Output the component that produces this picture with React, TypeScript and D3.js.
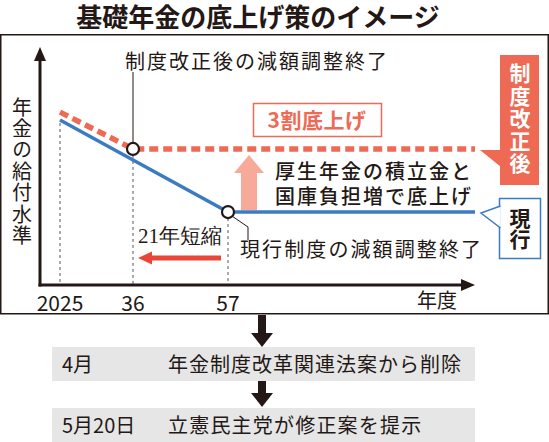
import React from 'react';
import * as d3 from 'd3';

const title = '基礎年金の底上げ策のイメージ';
const xTickYears = [2025, 2036, 2057];
const xTickLabels = ['2025', '36', '57'];
const xAxisLabel = '年度';
const yAxisLabel = '年金の給付水準';
const currentYears = [2025, 2057, 2075];
const currentValues = [70.8, 31.3, 31.3];
const reformYears = [2025, 2036, 2075];
const reformValues = [74.2, 58.4, 58.4];
const reformEndLabel = '制度改正後の減額調整終了';
const currentEndLabel = '現行制度の減額調整終了';
const raiseLabel = '3割底上げ';
const methodLines = ['厚生年金の積立金と', '国庫負担増で底上げ'];
const shortenLabel = '21年短縮';
const reformTag = '制度改正後';
const currentTag = '現行';
const timelineDates = ['4月', '5月20日'];
const timelineEvents = ['年金制度改革関連法案から削除', '立憲民主党が修正案を提示'];

const FONT = "'Noto Sans CJK JP', 'Noto Sans', sans-serif";
const INK = '#231815';
const RED = '#ee6a55';
const BLUE = '#3b7bc3';
const SALMON = '#f8aa9a';

export default function App() {
  const W = 549;
  const H = 442;
  const x = d3.scaleLinear().domain([2025, 2036, 2057, 2075]).range([60, 133, 228, 475]);
  const y = d3.scaleLinear().domain([0, 100]).range([285, 52]);
  const line = d3.line<[number, number]>().x((d) => x(d[0])).y((d) => y(d[1]));
  const cur = currentYears.map((yr, i) => [yr, currentValues[i]] as [number, number]);
  const ref = reformYears.map((yr, i) => [yr, reformValues[i]] as [number, number]);
  const axisY = y(0);
  const axisX = 40;
  const c1 = { x: x(reformYears[1]), y: y(reformValues[1]) };
  const c2 = { x: x(currentYears[1]), y: y(currentValues[1]) };
  const r = 6;

  const vText = (chars: string, cx: number, top: number, step: number, fontSize: number, props: any) => (
    <text
      x={cx}
      y={top}
      fontSize={fontSize}
      letterSpacing={step - fontSize}
      style={{ writingMode: 'vertical-rl' as any }}
      {...props}
    >
      {chars}
    </text>
  );

  const downArrow = (cx: number, top: number, bottom: number) => {
    const hh = 14;
    return (
      <g>
        <rect x={cx - 4} y={top} width={8} height={bottom - top - hh + 1} fill={INK} />
        <path d={`M${cx - 11},${bottom - hh} L${cx + 11},${bottom - hh} L${cx},${bottom} Z`} fill={INK} />
      </g>
    );
  };

  return (
    <svg width={W} height={H} style={{ position: 'absolute', left: 0, top: 0, background: '#fff' }} fontFamily={FONT}>
      <rect x={0} y={0} width={W} height={H} fill="#fff" />
      <text x={258} y={15} textAnchor="middle" dominantBaseline="central" fontSize={26} fontWeight={700} fill={INK}>{title}</text>
      <rect x={0.75} y={34.75} width={547.5} height={279} fill="none" stroke={INK} strokeWidth={1.5} />

      {/* dashed guide lines */}
      <line x1={x(2025)} x2={x(2025)} y1={y(currentValues[0]) + 3} y2={axisY} stroke="#555" strokeWidth={1} strokeDasharray="3 3" />
      <line x1={c1.x} x2={c1.x} y1={c1.y + r} y2={axisY} stroke="#555" strokeWidth={1} strokeDasharray="3 3" />
      <line x1={c2.x} x2={c2.x} y1={c2.y + r} y2={axisY} stroke="#555" strokeWidth={1} strokeDasharray="3 3" />

      {/* axes */}
      <line x1={axisX} x2={axisX} y1={axisY + 1.5} y2={60} stroke={INK} strokeWidth={3} />
      <path d={`M${axisX - 6},${61} L${axisX + 6},${61} L${axisX},${47} Z`} fill={INK} />
      <line x1={axisX - 1.5} x2={462} y1={axisY} y2={axisY} stroke={INK} strokeWidth={3} />
      <path d={`M${461},${axisY - 6} L${461},${axisY + 6} L${475},${axisY} Z`} fill={INK} />
      {xTickYears.map((yr, i) => (
        <text key={yr} x={x(yr)} y={311} textAnchor="middle" fontSize={21} fill={INK}>{xTickLabels[i]}</text>
      ))}
      <text x={437} y={308} textAnchor="middle" fontSize={20} fill={INK}>{xAxisLabel}</text>
      {vText(yAxisLabel, 22, 97, 21.4, 20, { fill: INK })}

      {/* up arrow */}
      <path d={`M241,210 L241,173 L234,173 L249,155 L264,173 L257,173 L257,210 Z`} fill={SALMON} />

      {/* series */}
      <path d={line(ref) || ''} fill="none" stroke={RED} strokeWidth={5.5} strokeDasharray="9 5" />
      <path d={line(cur) || ''} fill="none" stroke={BLUE} strokeWidth={3.5} />

      {/* leaders */}
      <line x1={c1.x} x2={c1.x} y1={72} y2={c1.y - r} stroke={INK} strokeWidth={1} />
      <polyline points={`${c2.x + 4},${c2.y + 4} 248,227 248,240`} fill="none" stroke={INK} strokeWidth={1} />

      <circle cx={c1.x} cy={c1.y} r={r} fill="#fff" stroke={INK} strokeWidth={2.2} />
      <circle cx={c2.x} cy={c2.y} r={r} fill="#fff" stroke={INK} strokeWidth={2.2} />

      {/* labels */}
      <text x={125} y={69} fontSize={20} letterSpacing={2} fill={INK}>{reformEndLabel}</text>
      <text x={240} y={257} fontSize={20} letterSpacing={2.1} fill={INK}>{currentEndLabel}</text>
      <rect x={253.5} y={103.5} width={128} height={33} fill="#fff" stroke={RED} strokeWidth={1.5} />
      <text x={317} y={128} textAnchor="middle" fontSize={21} fontWeight={700} letterSpacing={0.5} fill={RED}>{raiseLabel}</text>
      {methodLines.map((t, i) => (
        <text key={i} x={275} y={179 + i * 25} fontSize={20} fontWeight={500} letterSpacing={2} fill={INK}>{t}</text>
      ))}

      {/* 21 year shorten */}
      <text x={138} y={243} fontSize={21} fill={INK} fontFamily="'Liberation Serif', 'DejaVu Serif', serif">{shortenLabel}</text>
      <line x1={150} x2={221} y1={258} y2={258} stroke="#e94638" strokeWidth={5} />
      <path d={`M152,251.5 L152,264.5 L138,258 Z`} fill="#e94638" />

      {/* tags */}
      <rect x={500} y={55} width={39} height={130} fill={RED} />
      <path d={`M480,150 L501,150 L501,167 Z`} fill={RED} />
      {vText(reformTag, 520, 63, 22.4, 21, { fontWeight: 700, fill: '#fff' })}

      <rect x={499.5} y={198.5} width={41} height={60} fill="#fff" stroke={BLUE} strokeWidth={1.5} />
      <path d={`M500.5,206 L481,213 L500.5,228`} fill="#fff" stroke={BLUE} strokeWidth={1.5} />
      {vText(currentTag, 520, 207.5, 21, 21, { fontWeight: 700, fill: INK })}

      {/* timeline */}
      {downArrow(262, 315, 347)}
      <rect x={52} y={347} width={423} height={34} fill="#e6e6e6" />
      <text x={62} y={372} fontSize={20} fill={INK}>{timelineDates[0]}</text>
      <text x={168} y={372} fontSize={20} letterSpacing={1} fill={INK}>{timelineEvents[0]}</text>
      {downArrow(262, 381, 407)}
      <rect x={52} y={408} width={423} height={34} fill="#e6e6e6" />
      <text x={62} y={433} fontSize={20} fill={INK}>{timelineDates[1]}</text>
      <text x={168} y={433} fontSize={20} letterSpacing={1.2} fill={INK}>{timelineEvents[1]}</text>
    </svg>
  );
}
